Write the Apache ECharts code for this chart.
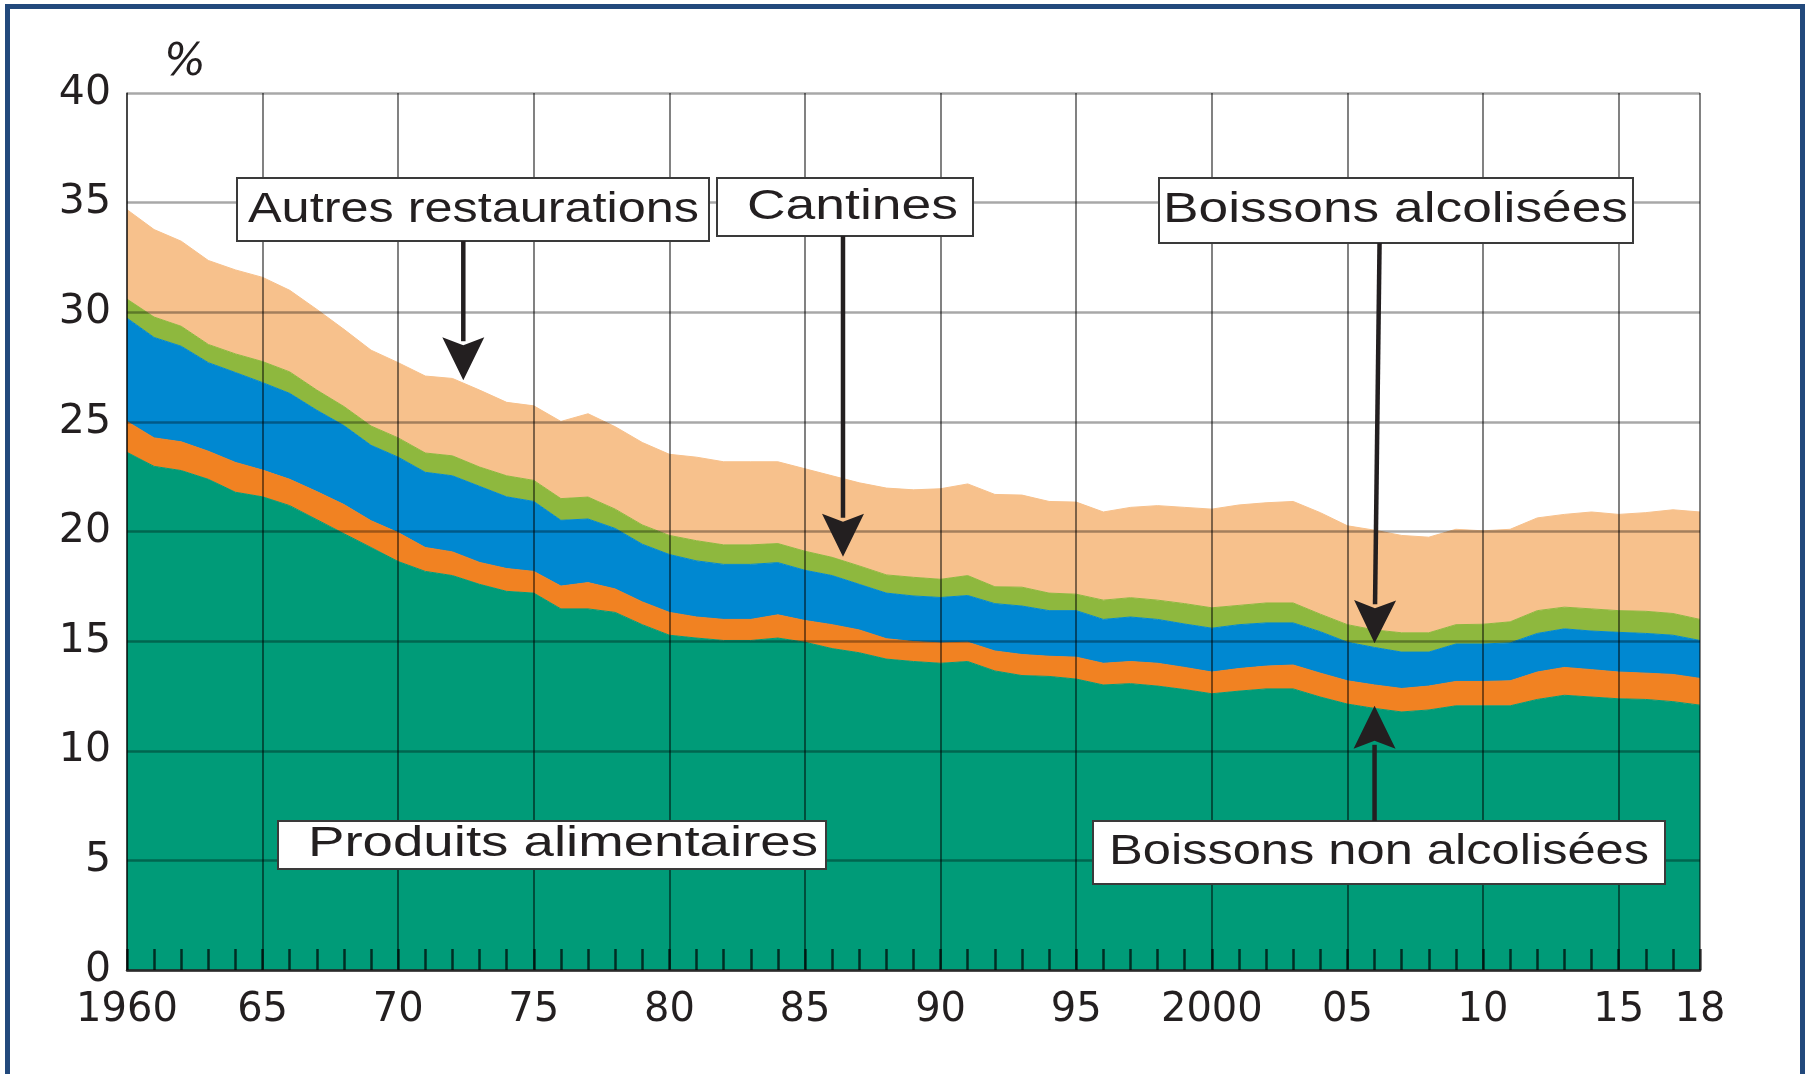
<!DOCTYPE html>
<html>
<head>
<meta charset="utf-8">
<title>Consommation alimentaire</title>
<script src="https://cdn.jsdelivr.net/npm/echarts@6/dist/echarts.min.js"></script>
<style>
  html, body { margin: 0; padding: 0; background: #fff; }
  #chart { position: absolute; left: 0; top: 0; width: 1808px; height: 1074px; }
  .frame {
    position: absolute; left: 5px; top: 4px; width: 1790px; height: 1100px;
    border: 5px solid #22497c; border-bottom: none; pointer-events: none;
  }
</style>
</head>
<body>
<div id="chart"></div>
<div class="frame"></div>
<script>
const years = [
  1960, 1961, 1962, 1963, 1964, 1965, 1966, 1967, 1968, 1969,
  1970, 1971, 1972, 1973, 1974, 1975, 1976, 1977, 1978, 1979,
  1980, 1981, 1982, 1983, 1984, 1985, 1986, 1987, 1988, 1989,
  1990, 1991, 1992, 1993, 1994, 1995, 1996, 1997, 1998, 1999,
  2000, 2001, 2002, 2003, 2004, 2005, 2006, 2007, 2008, 2009,
  2010, 2011, 2012, 2013, 2014, 2015, 2016, 2017, 2018
]

// layers, bottom to top (% of consumption)
const produitsAlimentaires = [
  23.61, 22.97, 22.78, 22.38, 21.79, 21.58, 21.18, 20.54, 19.90, 19.27,
  18.63, 18.18, 17.99, 17.59, 17.27, 17.19, 16.47, 16.47, 16.31, 15.75,
  15.27, 15.14, 15.03, 15.03, 15.14, 14.95, 14.66, 14.47, 14.18, 14.07,
  13.99, 14.07, 13.64, 13.43, 13.39, 13.27, 13.00, 13.06, 12.95, 12.79,
  12.60, 12.72, 12.82, 12.82, 12.45, 12.13, 11.93, 11.77, 11.86, 12.05,
  12.05, 12.05, 12.34, 12.53, 12.45, 12.37, 12.34, 12.24, 12.08
]
const boissonsNonAlcoolisees = [
  1.41, 1.30, 1.31, 1.28, 1.36, 1.22, 1.20, 1.28, 1.33, 1.22,
  1.32, 1.09, 1.08, 1.00, 1.04, 0.99, 1.04, 1.20, 1.07, 1.04,
  1.04, 0.96, 0.96, 0.96, 1.06, 0.99, 1.09, 1.04, 0.93, 0.91,
  0.93, 0.88, 0.91, 0.96, 0.92, 1.00, 0.99, 1.01, 1.04, 1.01,
  0.99, 1.03, 1.04, 1.09, 1.09, 1.06, 1.07, 1.07, 1.09, 1.11,
  1.11, 1.14, 1.25, 1.27, 1.25, 1.22, 1.20, 1.24, 1.22
]
const boissonsAlcoolisees = [
  4.71, 4.58, 4.36, 4.04, 4.10, 3.99, 3.92, 3.71, 3.60, 3.44,
  3.44, 3.43, 3.47, 3.47, 3.27, 3.19, 3.00, 2.90, 2.76, 2.63,
  2.64, 2.56, 2.51, 2.51, 2.38, 2.29, 2.24, 2.08, 2.08, 2.08,
  2.07, 2.13, 2.16, 2.21, 2.08, 2.12, 2.00, 2.03, 2.00, 1.98,
  2.00, 2.00, 1.97, 1.92, 1.89, 1.76, 1.71, 1.66, 1.55, 1.71,
  1.71, 1.73, 1.76, 1.76, 1.76, 1.81, 1.81, 1.79, 1.73
]
const cantines = [
  0.87, 0.93, 0.91, 0.83, 0.85, 0.96, 0.98, 0.92, 0.87, 0.88,
  0.88, 0.88, 0.91, 0.88, 0.96, 0.96, 0.99, 1.00, 0.88, 0.88,
  0.87, 0.92, 0.89, 0.89, 0.87, 0.87, 0.83, 0.84, 0.83, 0.85,
  0.83, 0.91, 0.77, 0.86, 0.80, 0.75, 0.88, 0.88, 0.88, 0.93,
  0.93, 0.88, 0.91, 0.91, 0.80, 0.80, 0.80, 0.88, 0.88, 0.88,
  0.90, 0.96, 1.04, 0.99, 1.01, 0.99, 1.01, 0.99, 0.96
]
const autresRestaurations = [
  4.08, 3.99, 3.88, 3.83, 3.83, 3.84, 3.72, 3.68, 3.52, 3.46,
  3.43, 3.51, 3.53, 3.51, 3.35, 3.40, 3.52, 3.80, 3.76, 3.76,
  3.70, 3.81, 3.79, 3.79, 3.73, 3.76, 3.72, 3.79, 3.96, 3.99,
  4.13, 4.18, 4.21, 4.20, 4.18, 4.20, 4.02, 4.12, 4.31, 4.39,
  4.50, 4.58, 4.57, 4.63, 4.63, 4.51, 4.55, 4.44, 4.36, 4.35,
  4.26, 4.22, 4.23, 4.23, 4.42, 4.39, 4.50, 4.73, 4.90
]

const xTickValues = [1960, 1965, 1970, 1975, 1980, 1985, 1990, 1995, 2000, 2005, 2010, 2015, 2018]
const xTickLabels = ['1960', '65', '70', '75', '80', '85', '90', '95', '2000', '05', '10', '15', '18']

const layers = [
  { name: 'Produits alimentaires', values: produitsAlimentaires, color: '#009b78' },
  { name: 'Boissons non alcolisées', values: boissonsNonAlcoolisees, color: '#f18222' },
  { name: 'Boissons alcolisées', values: boissonsAlcoolisees, color: '#0088d1' },
  { name: 'Cantines', values: cantines, color: '#8eb83e' },
  { name: 'Autres restaurations', values: autresRestaurations, color: '#f7c18c' }
]

// label boxes (pixels, with the text width to fill) and arrow tips (year, value)
const notes = [
  { text: 'Autres restaurations', box: [237, 178, 472, 63], tx: 248, ty: 210, tw: 451 },
  { text: 'Cantines', box: [717, 178, 256, 58], tx: 747, ty: 207, tw: 211 },
  { text: 'Boissons alcolisées', box: [1159, 178, 474, 65], tx: 1163, ty: 210, tw: 465 },
  { text: 'Produits alimentaires', box: [278, 821, 548, 48], tx: 308, ty: 844, tw: 510 },
  { text: 'Boissons non alcolisées', box: [1093, 821, 572, 63], tx: 1109, ty: 852, tw: 540 }
]
const arrows = [
  { tip: [1972.4, 26.9], fromY: 241, dx: 0 },
  { tip: [1986.4, 18.85], fromY: 236, dx: 0 },
  { tip: [2006.0, 14.9], fromY: 243, dx: 5 },
  { tip: [2006.0, 12.05], fromY: 821, dx: 0 }
]

const FONT_AXIS = 'DejaVu Sans'
const FONT_NOTE = 'Liberation Sans'
const INK = '#231f20'

const isTick = idx => xTickValues.indexOf(years[idx]) >= 0

const chart = echarts.init(document.getElementById('chart'))

const option = {
  animation: false,
  backgroundColor: '#fff',
  grid: { left: 127, right: 108, top: 93, bottom: 104 },
  xAxis: [{
    type: 'category',
    data: years,
    boundaryGap: false,
    position: 'bottom',
    z: 5,
    axisLine: { show: true, onZero: false, lineStyle: { color: '#2a2a2a', width: 2.5 } },
    axisTick: { show: false },
    axisLabel: {
      interval: idx => isTick(idx),
      margin: 21,
      fontFamily: FONT_AXIS,
      fontSize: 40,
      color: INK,
      formatter: v => {
        const i = xTickValues.indexOf(Number(v))
        return i >= 0 ? xTickLabels[i] : ''
      }
    },
    splitLine: { show: true, interval: idx => isTick(idx), lineStyle: { color: 'rgba(0,0,0,0.62)', width: 1.6 } }
  }, {
    // yearly ticks along the bottom
    type: 'category',
    data: years,
    boundaryGap: false,
    position: 'bottom',
    z: 5,
    axisLine: { show: false, onZero: false },
    axisTick: { show: true, inside: true, interval: 0, length: 21, lineStyle: { color: 'rgba(0,0,0,0.7)', width: 2.5 } },
    axisLabel: { show: false },
    splitLine: { show: false }
  }],
  yAxis: {
    type: 'value',
    min: 0,
    max: 40,
    interval: 5,
    z: 5,
    axisLine: { show: true, lineStyle: { color: 'rgba(0,0,0,0.55)', width: 1.6 } },
    axisTick: { show: false },
    axisLabel: { margin: 16, fontFamily: FONT_AXIS, fontSize: 41, color: INK },
    splitLine: { show: true, lineStyle: { color: 'rgba(0,0,0,0.34)', width: 2.6 } }
  },
  series: layers.map(l => ({
    name: l.name,
    type: 'line',
    stack: 'total',
    xAxisIndex: 0,
    yAxisIndex: 0,
    showSymbol: false,
    symbol: 'none',
    lineStyle: { color: l.color, width: 1 },
    areaStyle: { color: l.color, opacity: 1 },
    data: l.values
  }))
}

chart.setOption(option)

const measure = (text, size, family) => {
  const ctx = document.createElement('canvas').getContext('2d')
  ctx.font = size + 'px "' + family + '"'
  return ctx.measureText(text).width
}

const toPixel = (year, value) => {
  const k = year - years[0]
  const i0 = Math.floor(k)
  const i1 = Math.min(i0 + 1, years.length - 1)
  const a = chart.convertToPixel({ xAxisIndex: 0, yAxisIndex: 0 }, [i0, value])
  const b = chart.convertToPixel({ xAxisIndex: 0, yAxisIndex: 0 }, [i1, value])
  return [a[0] + (b[0] - a[0]) * (k - i0), a[1]]
}

const drawNotes = () => {
  const g = []
  g.push({
    type: 'text', x: 164, y: 64, z: 20,
    style: { text: '%', fontFamily: FONT_AXIS, fontStyle: 'italic', fontSize: 44, fill: INK, align: 'left', verticalAlign: 'middle' }
  })
  notes.forEach(n => {
    g.push({
      type: 'rect', z: 19,
      shape: { x: n.box[0], y: n.box[1], width: n.box[2], height: n.box[3] },
      style: { fill: '#fff', stroke: '#3a3a3a', lineWidth: 2 }
    })
    const w = measure(n.text, 42, FONT_NOTE)
    g.push({
      type: 'text', x: n.tx, y: n.ty, scaleX: n.tw / w, z: 20,
      style: { text: n.text, fontFamily: FONT_NOTE, fontSize: 42, fill: INK, align: 'left', verticalAlign: 'middle' }
    })
  })
  arrows.forEach(a => {
    const tip = toPixel(a.tip[0], a.tip[1])
    const start = [tip[0] + a.dx, a.fromY]
    const len = Math.hypot(tip[0] - start[0], tip[1] - start[1])
    const d = [(tip[0] - start[0]) / len, (tip[1] - start[1]) / len]
    const head = 43
    const half = 21
    const base = [tip[0] - d[0] * head, tip[1] - d[1] * head]
    const nrm = [-d[1], d[0]]
    g.push({
      type: 'line', z: 21,
      shape: { x1: start[0], y1: start[1], x2: base[0] + d[0] * 4, y2: base[1] + d[1] * 4 },
      style: { stroke: INK, lineWidth: 4.5 }
    })
    g.push({
      type: 'polygon', z: 21,
      shape: { points: [tip, [base[0] + nrm[0] * half, base[1] + nrm[1] * half], [base[0] + d[0] * 8, base[1] + d[1] * 8], [base[0] - nrm[0] * half, base[1] - nrm[1] * half]] },
      style: { fill: INK }
    })
  })
  chart.setOption({ graphic: g })
}

drawNotes()
</script>
</body>
</html>
